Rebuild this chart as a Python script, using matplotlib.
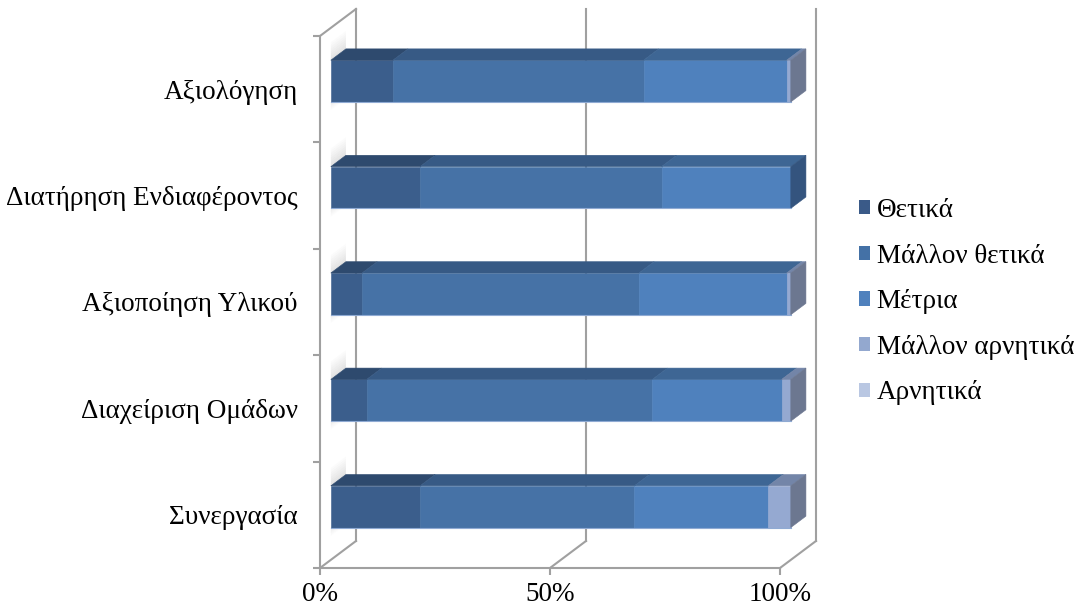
import matplotlib
matplotlib.use("Agg")
import matplotlib.pyplot as plt
from matplotlib.patches import Polygon, Patch

plt.rcParams['font.family'] = ['Liberation Serif', 'DejaVu Serif']

# categories listed top to bottom, values in percent of answers
categories = ["Αξιολόγηση", "Διατήρηση Ενδιαφέροντος", "Αξιοποίηση Υλικού",
              "Διαχείριση Ομάδων", "Συνεργασία"]
series = ["Θετικά", "Μάλλον θετικά", "Μέτρια", "Μάλλον αρνητικά", "Αρνητικά"]
thetika = [13.5, 19.4, 6.8, 7.8, 19.4]
mallon_thetika = [54.5, 52.5, 60.2, 62.1, 46.6]
metria = [31.1, 28.1, 32.1, 28.1, 29.1]
mallon_arnitika = [0.9, 0.0, 0.9, 2.0, 4.9]
arnitika = [0.0, 0.0, 0.0, 0.0, 0.0]
x_ticks = [0, 50, 100]
x_ticklabels = ["0%", "50%", "100%"]

# face colours per series: front, top, right side
front_c = ["#3B5E8C", "#4672A6", "#4F81BD", "#95A9D1", "#B9C6E0"]
top_c = ["#2E4A6E", "#375A85", "#3E6694", "#7385A8", "#96A3BD"]
side_c = ["#2C4568", "#31507A", "#34547E", "#6C7790", "#8A93A6"]
legend_c = ["#3A5A88", "#4471A6", "#4F81BD", "#93A8CF", "#B9C7E2"]
grid_c = "#A0A0A0"
FS = 19.5

# oblique projection of the depth axis (in data units)
DX, DY = 7.83, 0.254
Z0, Z1 = 0.30, 0.72
HALF = 0.196


def proj(v, y, z):
    return (v + DX * z, y + DY * z)


def wall_shadow(ax, y_from, y_to, steps=8, alpha=0.22):
    # soft shadow of a bar end on the side wall, fading from y_from to y_to
    for k in range(steps):
        a = y_from + (y_to - y_from) * k / steps
        b = y_from + (y_to - y_from) * (k + 1) / steps
        pts = [proj(0, a, Z0), proj(0, a, Z1), proj(0, b, Z1), proj(0, b, Z0)]
        ax.add_patch(Polygon(pts, closed=True, fc="#808080", ec="none",
                             alpha=alpha * (1 - k / steps), zorder=2))


fig = plt.figure(figsize=(10.8, 6.15), dpi=100)
ax = fig.add_axes([0.28352, 0.05566, 0.48981, 0.93773])
ax.set_xlim(-3, 112)
ax.set_ylim(-0.12, 5.30)

n = len(categories)

# back wall gridlines and floor diagonals
for v in x_ticks:
    ax.plot(*zip(proj(v, 0, 1), proj(v, n, 1)), color=grid_c, lw=1.5, zorder=1)
    ax.plot(*zip(proj(v, 0, 0), proj(v, 0, 1)), color=grid_c, lw=1.5, zorder=1)
# top edge of the side wall
ax.plot(*zip(proj(0, n, 0), proj(0, n, 1)), color=grid_c, lw=1.5, zorder=1)

values = [thetika, mallon_thetika, metria, mallon_arnitika, arnitika]
for i in range(n):
    c = n - 1 - i + 0.5
    lo, hi = c - HALF, c + HALF
    wall_shadow(ax, hi, hi + 0.17)
    wall_shadow(ax, lo, lo - 0.08, alpha=0.15)
    left = 0.0
    last = None
    for j, vals in enumerate(values):
        w = vals[i]
        if w <= 0:
            continue
        right = left + w
        front = [proj(left, lo, Z0), proj(right, lo, Z0),
                 proj(right, hi, Z0), proj(left, hi, Z0)]
        top = [proj(left, hi, Z0), proj(right, hi, Z0),
               proj(right, hi, Z1), proj(left, hi, Z1)]
        ax.add_patch(Polygon(front, closed=True, fc=front_c[j], ec=front_c[j],
                             lw=0.4, zorder=3))
        ax.add_patch(Polygon(top, closed=True, fc=top_c[j], ec=top_c[j],
                             lw=0.4, zorder=3))
        last = (right, j)
        left = right
    if last is not None:
        e, j = last
        side = [proj(e, lo, Z0), proj(e, hi, Z0), proj(e, hi, Z1), proj(e, lo, Z1)]
        ax.add_patch(Polygon(side, closed=True, fc=side_c[j], ec=side_c[j],
                             lw=0.4, zorder=3))
    # light edge along the bottom of the front face
    ax.plot(*zip(proj(0, lo, Z0), proj(left, lo, Z0)), color="#8FAAD3",
            lw=0.8, zorder=4)

# axes lines
for s in ["top", "right"]:
    ax.spines[s].set_visible(False)
ax.spines["bottom"].set_position(("data", 0))
ax.spines["left"].set_position(("data", 0))
ax.spines["bottom"].set_bounds(0, 100)
ax.spines["left"].set_bounds(0, n)
for s in ["bottom", "left"]:
    ax.spines[s].set_color(grid_c)
    ax.spines[s].set_linewidth(1.5)

ax.set_xticks(x_ticks)
ax.set_xticklabels(x_ticklabels)
ax.tick_params(axis="x", direction="out", length=5, width=1.5, color=grid_c,
               labelsize=FS, pad=5)

ax.set_yticks(range(n + 1))
ax.set_yticklabels([])
ax.set_yticks([n - 1 - i + 0.5 for i in range(n)], minor=True)
ax.set_yticklabels(categories, minor=True)
ax.tick_params(axis="y", which="major", direction="out", length=5, width=1.5,
               color=grid_c)
ax.tick_params(axis="y", which="minor", length=0, labelsize=FS, pad=16)
ax.patch.set_visible(False)

handles = [Patch(fc=legend_c[j], ec="none") for j in range(len(series))]
fig.legend(handles, series, loc="center left", bbox_to_anchor=(0.795, 0.5095),
           frameon=False, fontsize=FS, handlelength=0.42, handleheight=0.42,
           handletextpad=0.25, labelspacing=0.76, borderpad=0, borderaxespad=0)

fig.savefig("out.png", dpi=100)
